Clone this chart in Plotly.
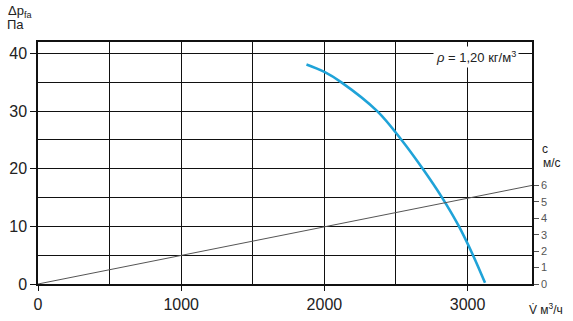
import plotly.graph_objects as go

# Fan curve: flow V (m3/h) vs pressure dp_fa (Pa)
flow = [1875, 2000, 2119, 2369, 2539, 2687, 2822, 2940, 3038, 3122]
pressure = [38.1, 36.8, 35.0, 30.0, 25.0, 20.0, 15.0, 10.0, 5.0, 0.2]

# Velocity line: flow vs c (m/s)
vel_flow = [0, 3450]
vel_c = [0, 6.0]

x_ticks = [0, 1000, 2000, 3000]
y_ticks = [0, 10, 20, 30, 40]
c_ticks = [0, 1, 2, 3, 4, 5, 6]

FONT = "Liberation Sans, Arial, sans-serif"
BLUE = "#1fa3d8"
W, H = 573, 321
L, R, T, B = 38, 41, 42, 37

fig = go.Figure()
fig.add_trace(go.Scatter(x=vel_flow, y=vel_c, mode="lines", yaxis="y2",
                         line=dict(color="#555555", width=1), showlegend=False,
                         hoverinfo="skip"))
fig.add_trace(go.Scatter(x=flow, y=pressure, mode="lines",
                         line=dict(color=BLUE, width=2.6, shape="spline", smoothing=1),
                         showlegend=False))

fig.update_layout(
    width=W, height=H,
    margin=dict(l=L, r=R, t=T, b=B),
    paper_bgcolor="white", plot_bgcolor="white",
    font=dict(family=FONT, color="#222222", size=16),
    xaxis=dict(range=[0, 3450], tickvals=x_ticks, showgrid=True, automargin=False,
               gridcolor="#111111", gridwidth=1.3,
               minor=dict(dtick=500, showgrid=True, gridcolor="#111111", gridwidth=1.3),
               showline=True, linecolor="#111111", linewidth=1.5, mirror=True,
               ticks="outside", ticklen=5, tickcolor="#111111",
               zeroline=False, tickfont=dict(size=16, color="#222222")),
    yaxis=dict(range=[0, 42], tickvals=y_ticks, showgrid=True, automargin=False,
               gridcolor="#111111", gridwidth=1.3,
               minor=dict(dtick=5, showgrid=True, gridcolor="#111111", gridwidth=1.3),
               showline=True, linecolor="#111111", linewidth=1.5, mirror=True,
               ticks="outside", ticklen=6, tickcolor="#111111",
               zeroline=False, tickfont=dict(size=16, color="#222222")),
    yaxis2=dict(range=[0, 42 * 5.75 / 16.4], overlaying="y", side="right",
                tickvals=c_ticks, showgrid=False, zeroline=False, automargin=False,
                showline=True, linecolor="#111111", linewidth=1.5,
                ticks="outside", ticklen=5, tickcolor="#555555",
                tickfont=dict(size=11, color="#555555")),
)

# positions given in window pixels
anns = [
    dict(x=476, y=57, text="<i>ρ</i> = 1,20 кг/м<sup>3</sup>", size=13, bg="white"),
    dict(x=20, y=11, text="Δp<sub>fa</sub>", size=13, bg=None),
    dict(x=15, y=25, text="Па", size=13, bg=None),
    dict(x=546, y=309, text="V̇ м<sup>3</sup>/ч", size=12, bg=None),
    dict(x=545, y=149, text="c", size=12, bg=None),
    dict(x=552, y=163, text="м/с", size=12, bg=None),
]
for a in anns:
    px = (a["x"] - L) / (W - L - R)
    py = 1 - (a["y"] - T) / (H - T - B)
    fig.add_annotation(x=px, y=py, xref="paper", yref="paper", text=a["text"],
                       showarrow=False, xanchor="center", yanchor="middle",
                       font=dict(size=a["size"], color="#222222", family=FONT),
                       bgcolor=a["bg"] if a["bg"] else "rgba(0,0,0,0)",
                       borderpad=2)

fig.write_html("out.html", config={"displayModeBar": False},
               post_script="document.body.style.margin='0';document.body.style.overflow='hidden';")
